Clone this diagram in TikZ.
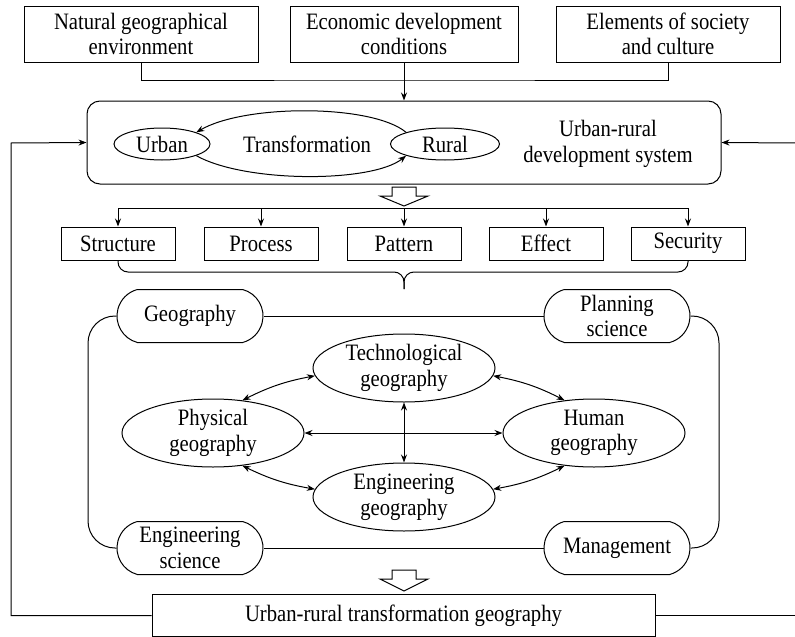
\documentclass[tikz,border=0pt]{standalone}
\usepackage{fontspec}
\newfontfamily\tnr[FakeStretch=0.88]{Liberation Serif}
\usetikzlibrary{arrows.meta,shapes.geometric,shapes.misc,calc}
\begin{document}
\begin{tikzpicture}[x=1pt,y=-1pt,
  every node/.style={font=\tnr\fontsize{23.5}{25.5}\selectfont, align=center, inner sep=0pt},
  lw/.style={line width=1pt},
  box/.style={draw, lw, rectangle, fill=white},
  ell/.style={draw, lw, ellipse},
  stad/.style={draw, lw, rounded rectangle, rounded rectangle arc length=150, minimum width=146pt, minimum height=53pt, fill=white},
  arr/.style={lw, -{Stealth[length=8pt,width=6pt]}},
  darr/.style={lw, {Stealth[length=8pt,width=6pt]}-{Stealth[length=8pt,width=6pt]}},
  hollow/.style={draw, lw, fill=white, line join=miter}
]
\useasboundingbox (0,0) rectangle (795,637);

% top boxes
\node[box, minimum width=234pt, minimum height=56pt] (b1) at (141,34) {Natural geographical\\environment};
\node[box, minimum width=228pt, minimum height=56pt] (b2) at (404,34) {Economic development\\conditions};
\node[box, minimum width=224pt, minimum height=56pt] (b3) at (668,34) {Elements of society\\and culture};

% system box
\node[draw, lw, rounded corners=13pt, minimum width=634pt, minimum height=83pt] (sys) at (404,142.5) {};
\node[ell, minimum width=96pt, minimum height=32pt] (urban) at (162,144) {Urban};
\node[ell, minimum width=109pt, minimum height=32pt] (rural) at (445,144) {Rural};
\node (trans) at (307,144) {Transformation};
\node (urs) at (608,144) {Urban-rural\\development system};
\draw[arr] (rural.north west) .. controls (372,104) and (245,104) .. (urban.north east);
\draw[arr] (urban.south east) .. controls (245,183) and (372,183) .. (rural.south west);

\coordinate (j) at (404,80);
\draw[lw] (b1.south) |- (j) -| (b3.south);
\draw[arr] (b2.south) -- (sys.north);

% feedback
\node[box, minimum width=503pt, minimum height=42pt] (bb) at (403.5,615.5) {Urban-rural transformation geography};
\coordinate (fl) at (11,143);
\coordinate (fr) at (796,143);
\coordinate (frb) at (796,615.5);
\draw[arr] (bb.west) -| (fl) -- (sys.west);
\draw[arr] (fr) -- (sys.east);
\draw[lw] (bb.east) -- (frb);

% hollow arrow 1
\coordinate (ha) at (404,187);
\draw[hollow] ($(ha)+(-12,0)$) -- ($(ha)+(12,0)$) -- ($(ha)+(12,9)$) -- ($(ha)+(24,9)$) -- ($(ha)+(0,19)$) -- ($(ha)+(-24,9)$) -- ($(ha)+(-12,9)$) -- cycle;

% five boxes
\foreach \n/\t/\x in {s1/Structure/118, s2/Process/261, s3/Pattern/404, s4/Effect/546, s5/Security/688}{
  \node[box, minimum width=114pt, minimum height=33pt] (\n) at (\x,243.5) {\t};
}
\coordinate (bus) at (404,208);
\draw[lw] (bus -| s1.north) -- (bus -| s5.north);
\foreach \n in {s1,s2,s3,s4,s5}{
  \draw[arr] (bus -| \n.north) -- (\n.north);
}

% brace
\coordinate (bt) at (404,289);
\coordinate (bm) at (404,272);
\draw[lw, rounded corners=10pt] (s1.south) |- (bm) -- (bt);
\draw[lw, rounded corners=10pt] (s5.south) |- (bm) -- (bt);

% frame
\node[stad] (geo) at (190,316) {Geography};
\node[stad] (plan) at (617,316) {Planning\\science};
\node[stad] (es) at (190,548) {Engineering\\science};
\node[stad] (mg) at (617,548) {Management};
\coordinate (ftl) at (88,316);
\coordinate (fbl) at (88,548);
\coordinate (ftr) at (719,316);
\coordinate (fbr) at (719,548);
\draw[lw, rounded corners=27pt] (geo.west) -- (ftl) -- (fbl) -- (es.west);
\draw[lw, rounded corners=27pt] (plan.east) -- (ftr) -- (fbr) -- (mg.east);
\draw[lw] (geo.east) -- (plan.west);
\draw[lw] (es.east) -- (mg.west);

% geography ellipses
\node[ell, minimum width=182pt, minimum height=68pt] (tech) at (404,368) {Technological\\geography};
\node[ell, minimum width=182pt, minimum height=68pt] (phys) at (213,433) {Physical\\geography};
\node[ell, minimum width=182pt, minimum height=68pt] (hum) at (594,433) {Human\\geography};
\node[ell, minimum width=182pt, minimum height=68pt] (eng) at (404,497) {Engineering\\geography};
\draw[darr] (phys.48) to[bend left=8] (tech.185);
\draw[darr] (tech.-5) to[bend left=8] (hum.132);
\draw[darr] (phys.-48) to[bend right=8] (eng.175);
\draw[darr] (eng.5) to[bend right=8] (hum.228);
\draw[darr] (phys.east) -- (hum.west);
\draw[darr] (tech.south) -- (eng.north);

% hollow arrow 2
\coordinate (hb) at (404,570);
\draw[hollow] ($(hb)+(-12,0)$) -- ($(hb)+(12,0)$) -- ($(hb)+(12,9)$) -- ($(hb)+(24,9)$) -- ($(hb)+(0,21)$) -- ($(hb)+(-24,9)$) -- ($(hb)+(-12,9)$) -- cycle;
\end{tikzpicture}
\end{document}
